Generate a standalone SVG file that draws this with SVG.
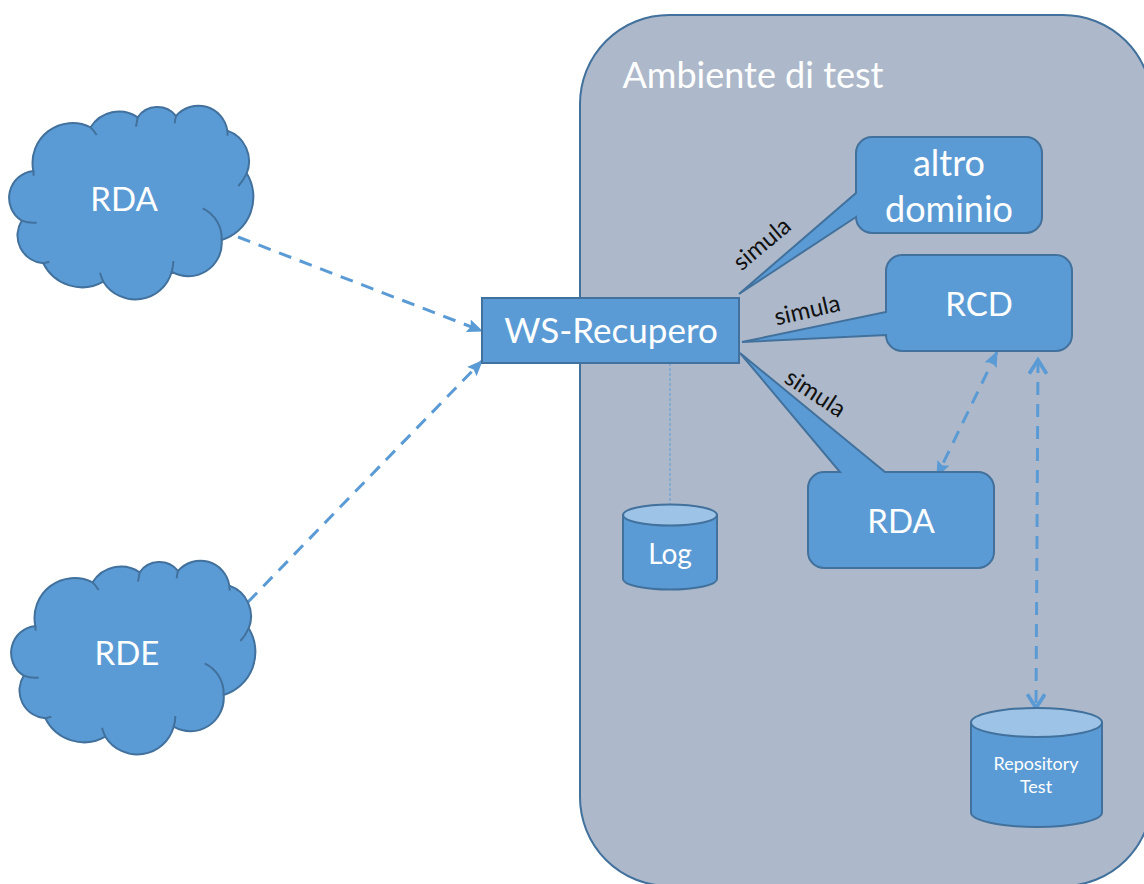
<svg xmlns="http://www.w3.org/2000/svg" width="1144" height="884" viewBox="0 0 1144 884">
<style>
text{font-family:"Lato","Open Sans","Liberation Sans",sans-serif;fill:#fff;text-anchor:middle}
.shape{fill:#5B9BD5;stroke:#41719C;stroke-width:2;stroke-linejoin:miter}
.top{fill:#9DC3E6;stroke:#41719C;stroke-width:2}
.tail{fill:none;stroke:#41719C;stroke-width:6}
.dash{fill:none;stroke:#5B9BD5;stroke-width:3;stroke-dasharray:13 9}
.lab{fill:#111;font-size:24px}
.big{font-size:36px}
.cap{font-size:33px}
</style>
<defs>
<marker id="tri" markerUnits="userSpaceOnUse" markerWidth="16" markerHeight="16" refX="11" refY="6" orient="auto-start-reverse" viewBox="0 0 12 12"><path d="M0 1L12 6L0 11L2 6Z" fill="#5B9BD5"/></marker>
<marker id="open" markerUnits="userSpaceOnUse" markerWidth="20" markerHeight="20" refX="13" refY="8" orient="auto-start-reverse" viewBox="0 0 16 16"><path d="M2 1L13 8L2 15" fill="none" stroke="#5B9BD5" stroke-width="3"/></marker>
<g id="cloud" transform="translate(0,90) scale(.33333)">
<path class="shape" style="stroke-width:6" d="M100 243A81 81 0 0 0 65 392A84 84 0 0 0 130 520A130 130 0 0 0 310 575A113 113 0 0 0 515 545A100 100 0 0 0 665 450A135 135 0 0 0 740 250A97 97 0 0 0 682 122A88 88 0 0 0 528 78A72 72 0 0 0 413 82A100 100 0 0 0 272 112A120 120 0 0 0 100 243Z"/>
<path class="tail" d="M100 243L101 257M65 392Q85 400 110 398M130 520L148 515M300 548Q304 562 310 575M515 545Q520 530 520 513M665 450A100 100 0 0 0 608 355M740 250Q730 272 715 288M682 122L683 137M528 78Q525 88 524 100M413 82L408 110M272 112Q282 122 290 135"/>
</g>
</defs>
<g id="ambiente">
<rect x="580" y="15" width="572" height="871" rx="89" ry="89" fill="#ADB9CA" stroke="#41719C" stroke-width="2"/>
<text class="big" x="753" y="88">Ambiente di test</text>
</g>
<g id="connectors">
<path class="dash" d="M238 237L482 331" marker-end="url(#tri)"/>
<path class="dash" d="M248 602L482 361" marker-end="url(#tri)"/>
<path class="dash" d="M997 352L937 476" marker-start="url(#tri)" marker-end="url(#tri)"/>
<path class="dash" d="M1038 360L1036 708" marker-start="url(#open)" marker-end="url(#open)"/>
<path d="M670 363V505" fill="none" stroke="#5B9BD5" stroke-width="1" stroke-dasharray="3 2"/>
</g>
<g id="cloud-rda"><use href="#cloud"/><text class="cap" x="124" y="211">RDA</text></g>
<g id="cloud-rde"><use href="#cloud" x="2" y="455"/><text class="cap" x="127" y="665">RDE</text></g>
<g id="ws-recupero"><rect class="shape" x="482" y="298" width="257" height="65"/><text style="font-size:35px" x="611" y="343">WS-Recupero</text></g>
<g id="altro-dominio">
<path class="shape" d="M872 137H1026A16 16 0 0 1 1042 153V217A16 16 0 0 1 1026 233H872A16 16 0 0 1 856 217L739 294L856 193V153A16 16 0 0 1 872 137Z"/>
<text class="big" x="949" y="176">altro</text><text class="big" x="949" y="222">dominio</text>
<text class="lab" transform="translate(767 250) rotate(-40)" x="0" y="0">simula</text>
</g>
<g id="rcd">
<path class="shape" d="M902 255H1056A16 16 0 0 1 1072 271V335A16 16 0 0 1 1056 351H902A16 16 0 0 1 886 335L742 342L886 312V271A16 16 0 0 1 902 255Z"/>
<text class="cap" x="979" y="316">RCD</text>
<text class="lab" transform="translate(809 318) rotate(-13)" x="0" y="0">simula</text>
</g>
<g id="rda">
<path class="shape" d="M824 472H840L740 353L885 472H978A16 16 0 0 1 994 488V552A16 16 0 0 1 978 568H824A16 16 0 0 1 808 552V488A16 16 0 0 1 824 472Z"/>
<text class="cap" x="901" y="533">RDA</text>
<text class="lab" transform="translate(811 400) rotate(33)" x="0" y="0">simula</text>
</g>
<g id="log">
<path class="shape" d="M623 515V579A47 10.500 0 0 0 717 579V515Z"/>
<ellipse class="top" cx="670" cy="515" rx="47" ry="10.500"/>
<text x="670" y="564" font-size="28">Log</text>
</g>
<g id="repository">
<path class="shape" d="M971 722.500V812.500A65.500 14.500 0 0 0 1102 812.500V722.500Z"/>
<ellipse class="top" cx="1036.500" cy="722.500" rx="65.500" ry="14.500"/>
<text x="1036" y="770" font-size="18">Repository</text><text x="1036" y="793" font-size="18">Test</text>
</g>
</svg>
